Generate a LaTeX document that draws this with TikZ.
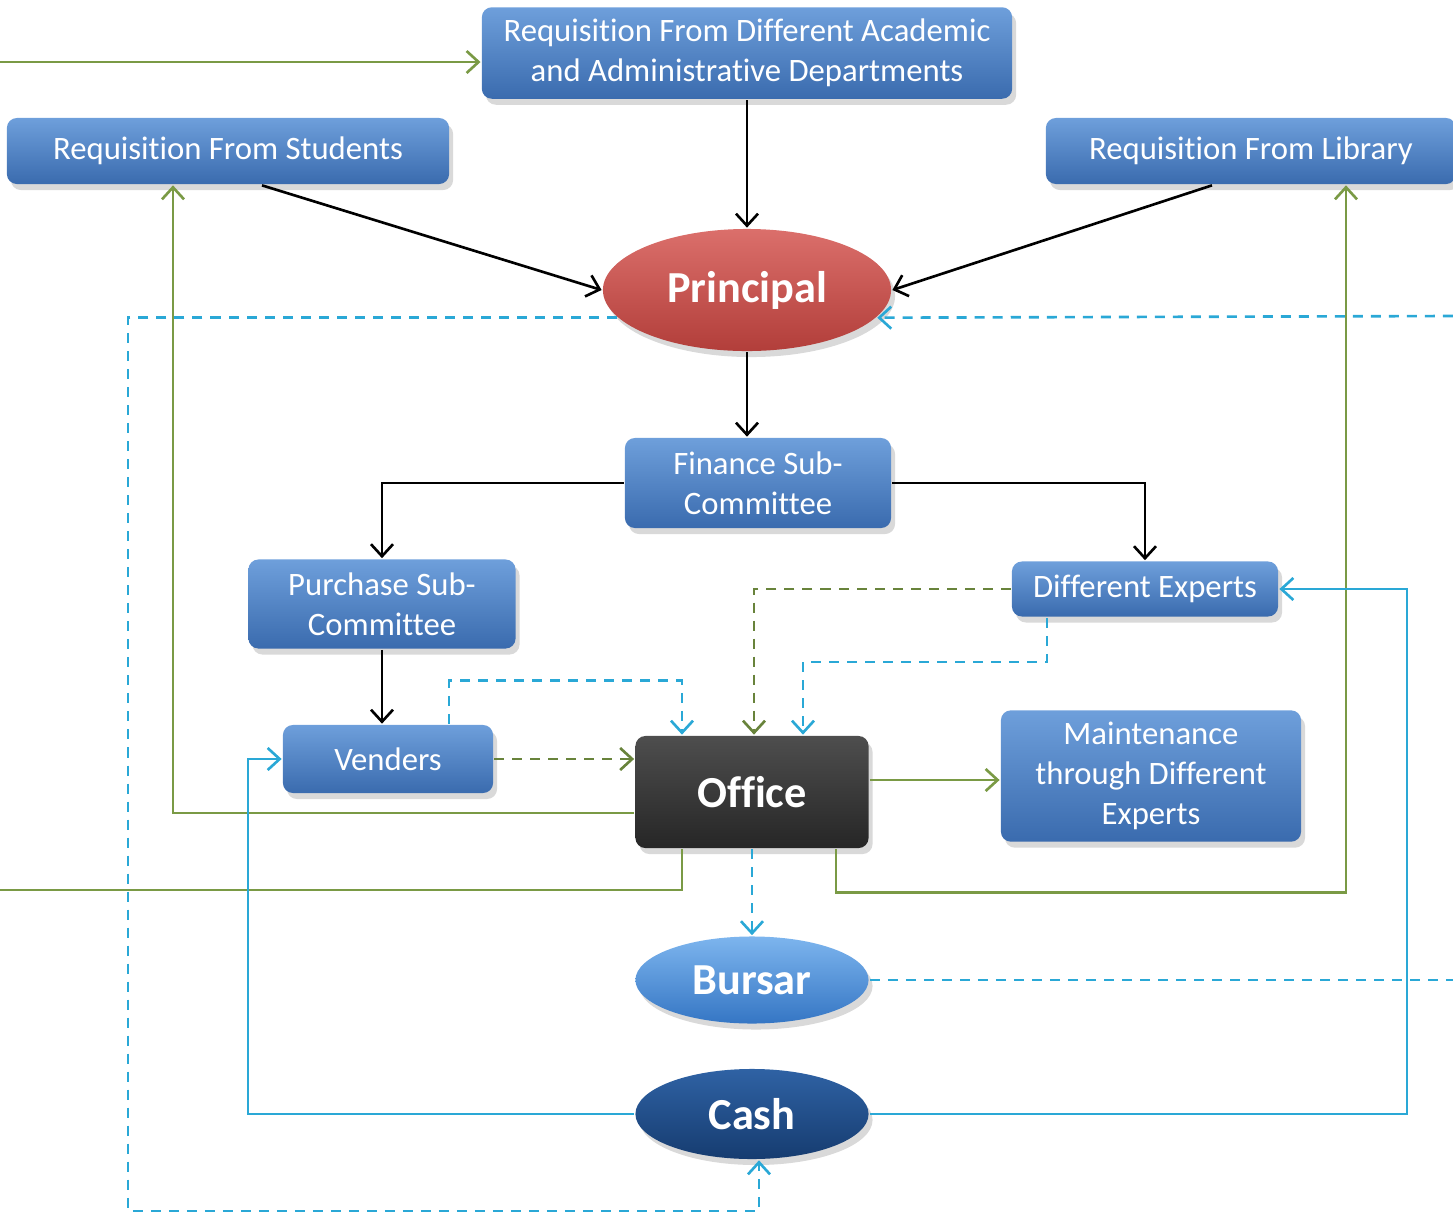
\documentclass[tikz,border=0pt]{standalone}
\usepackage{fontspec}
\setmainfont[Ligatures={CommonOff,ContextualOff}]{Carlito}
\usetikzlibrary{arrows.meta,shapes.geometric,shadows}
\definecolor{boxtop}{HTML}{6E9FDB}
\definecolor{boxbot}{HTML}{3A6BAE}
\definecolor{redtop}{HTML}{DB6F6B}
\definecolor{redbot}{HTML}{B23E3A}
\definecolor{graytop}{HTML}{4E4E4E}
\definecolor{graybot}{HTML}{262626}
\definecolor{burtop}{HTML}{7DB5EE}
\definecolor{burbot}{HTML}{3576C4}
\definecolor{cashtop}{HTML}{2F62A4}
\definecolor{cashbot}{HTML}{163C70}
\definecolor{lgreen}{HTML}{7A9A45}
\definecolor{lcyan}{HTML}{2AA8D6}

\begin{document}
\begin{tikzpicture}[x=0.01cm, y=-0.01cm, >={Straight Barb[length=1.2mm,width=2.2mm]},
    line width=0.75pt,
    box/.style={rectangle, rounded corners=1mm, top color=boxtop, bottom color=boxbot,
      text=white, align=center, font=\fontsize{9.3}{11.4}\selectfont,
      drop shadow={shadow xshift=0.4mm, shadow yshift=-0.6mm, opacity=0.3}},
    blob/.style={ellipse, text=white, font=\fontsize{12.6}{14}\selectfont\bfseries,
      drop shadow={shadow xshift=0.4mm, shadow yshift=-0.6mm, opacity=0.3}},
    gline/.style={draw=lgreen, ->},
    cline/.style={draw=lcyan, ->},
    gdash/.style={draw=lgreen!85!black, dash pattern=on 1mm off 0.8mm, ->},
    cdash/.style={draw=lcyan, dash pattern=on 1mm off 0.8mm, ->}]
  \useasboundingbox (0,0) rectangle (1453,1220);

  \node[box, minimum width=5.30cm, minimum height=0.88cm] (acad) at (747,53)
    {Requisition From Different Academic\\and Administrative Departments};
  \node[box, minimum width=4.42cm, minimum height=0.66cm] (stud) at (228,151) {Requisition From Students};
  \node[box, minimum width=4.10cm, minimum height=0.66cm] (lib) at (1251,151) {Requisition From Library};
  \node[blob, top color=redtop, bottom color=redbot, minimum width=2.88cm, minimum height=1.22cm]
    (prin) at (747,290) {Principal};
  \node[box, minimum width=2.66cm, minimum height=0.90cm] (fin) at (758,483) {Finance Sub-\\Committee};
  \node[box, minimum width=2.67cm, minimum height=0.89cm] (pur) at (382,604) {Purchase Sub-\\Committee};
  \node[box, minimum width=2.66cm, minimum height=0.55cm] (exp) at (1145,589) {Different Experts};
  \node[box, minimum width=2.10cm, minimum height=0.68cm] (vend) at (388,759) {Venders};
  \node[box, top color=graytop, bottom color=graybot, font=\fontsize{12.6}{14}\selectfont\bfseries,
    minimum width=2.33cm, minimum height=1.12cm] (off) at (752,792) {Office};
  \node[box, minimum width=3.00cm, minimum height=1.20cm] (mnt) at (1151,776)
    {Maintenance\\through Different\\Experts};
  \node[blob, top color=burtop, bottom color=burbot, minimum width=2.33cm, minimum height=0.87cm]
    (burs) at (752,980) {Bursar};
  \node[blob, top color=cashtop, bottom color=cashbot, minimum width=2.33cm, minimum height=0.90cm]
    (cash) at (752,1114) {Cash};

  \coordinate (lin) at (0,62);
  \coordinate (lout) at (0,890);
  \coordinate (rin) at (1453,316);
  \coordinate (rout) at (1453,980);

  \draw[->] (acad.south) -- (prin.north);
  \draw[->] (stud.south -| 262,0) -- (prin.west);
  \draw[->] (lib.south -| 1212,0) -- (prin.east);
  \draw[->] (prin.south) -- (prin.south |- fin.north);
  \draw[->] (fin.west) -| (pur.north);
  \draw[->] (fin.east) -| (exp.north);
  \draw[->] (pur.south) -- (pur.south |- vend.north);

  \draw[gdash] (vend.east) -- (vend.east -| off.west);
  \draw[cdash] (vend.north -| 449,0) -- ++(0,-43) -| (off.north -| 682,0);
  \draw[gdash] (exp.west) -| (off.north -| 754,0);
  \draw[cdash] (exp.south -| 1047,0) -- ++(0,44) -| (off.north -| 803,0);

  \draw[gline] (off.east |- 0,780) -- (mnt.west |- 0,780);
  \draw[gline] (off.west |- 0,813) -| (stud.south -| 173,0);
  \draw[lgreen] (off.south -| 682,0) |- (lout);
  \draw[gline] (off.south -| 836,0) -- ++(0,43) -| (lib.south -| 1346,0);
  \draw[gline] (lin) -- (acad.west |- lin);

  \draw[cdash] (off.south) -- (burs.north);
  \draw[cdash, -] (burs.east) -- (burs.east -| rout);
  \draw[cline] (cash.west) -- ++(-386,0) |- (vend.west);
  \draw[cline] (cash.east) -- ++(537,0) |- (exp.east);
  \draw[cdash] (prin.192) -| (128,1211) -| (cash.south -| 759,0);
  \draw[cdash] (rin) -- (prin.348);
\end{tikzpicture}
\end{document}
